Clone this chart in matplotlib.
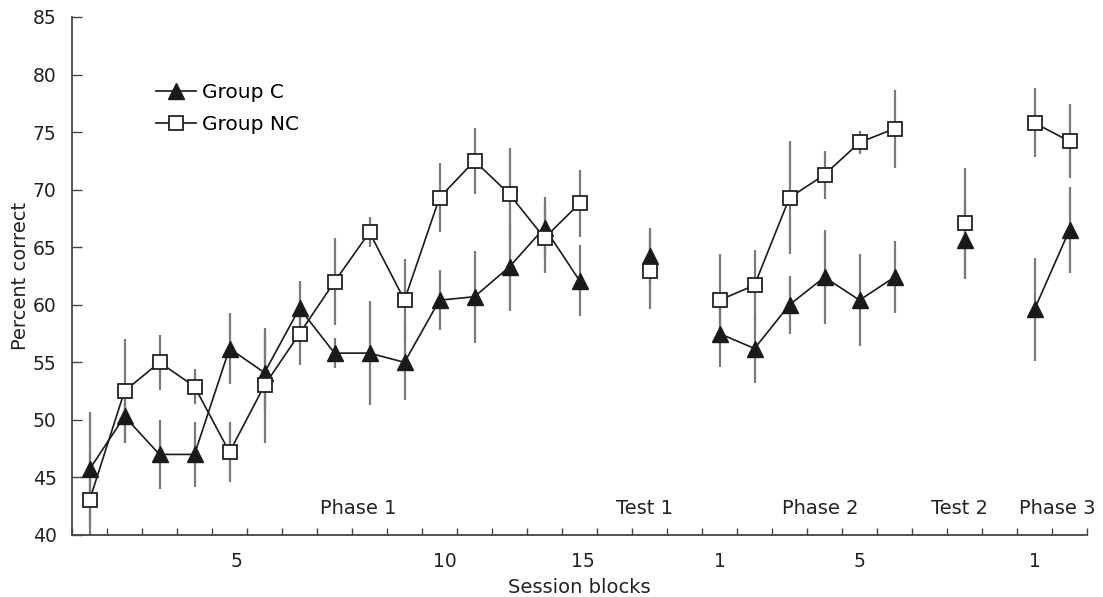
import numpy as np
import matplotlib
matplotlib.use('Agg')
import matplotlib.pyplot as plt

nan = np.nan

# block positions (1..29); gaps between phases
block = np.arange(1, 30)

# Group C (triangles)
group_c = [45.7, 50.3, 47.0, 47.0, 56.2, 54.1, 59.7, 55.8, 55.8, 55.0,
           60.4, 60.7, 63.3, 66.7, 62.1, nan, 64.2, nan,
           57.5, 56.2, 60.0, 62.4, 60.4, 62.4, nan, 65.6, nan, 59.6, 66.5]
err_c = [5.0, 2.3, 3.0, 2.8, 3.1, 3.5, 2.4, 1.3, 4.5, 3.3,
         2.6, 4.0, 3.8, 2.7, 3.1, nan, 2.5, nan,
         2.9, 3.0, 2.5, 4.1, 4.0, 3.1, nan, 3.4, nan, 4.5, 3.7]

# Group NC (squares)
group_nc = [43.0, 52.5, 55.0, 52.9, 47.2, 53.0, 57.5, 62.0, 66.3, 60.4,
            69.3, 72.5, 69.6, 65.8, 68.8, nan, 62.9, nan,
            60.4, 61.7, 69.3, 71.3, 74.1, 75.3, nan, 67.1, nan, 75.8, 74.2]
err_nc = [4.0, 4.5, 2.4, 1.5, 2.6, 5.0, 2.7, 3.8, 1.3, 3.6,
          3.0, 2.9, 4.0, 3.0, 2.9, nan, 3.3, nan,
          4.0, 3.1, 4.9, 2.1, 1.0, 3.4, nan, 4.8, nan, 3.0, 3.2]

tick_pos = [5.2, 11.15, 15.1, 19, 23, 28]
tick_labels = ['5', '10', '15', '1', '5', '1']

phase_names = ['Phase 1', 'Test 1', 'Phase 2', 'Test 2', 'Phase 3']
phase_pos = [8.67, 16.87, 21.87, 25.87, 28.64]

txt = '#222222'
plt.rcParams['font.family'] = 'DejaVu Sans'
plt.rcParams['font.size'] = 14

fig = plt.figure(figsize=(11.03, 5.97), dpi=100)
ax = fig.add_axes([72 / 1103, (597 - 535) / 597, 1015 / 1103, 518 / 597])

ax.errorbar(block, group_c, yerr=err_c, fmt='none', ecolor='#7a7a7a', elinewidth=1.6, zorder=1)
ax.errorbar(block, group_nc, yerr=err_nc, fmt='none', ecolor='#7a7a7a', elinewidth=1.6, zorder=1)

ax.plot(block, group_c, color='#1a1a1a', lw=1.2, marker='^', ms=11,
        mfc='#1a1a1a', mec='#1a1a1a', label='Group C', zorder=3)
ax.plot(block, group_nc, color='#1a1a1a', lw=1.2, marker='s', ms=10.5,
        mfc='white', mec='#222222', mew=1.3, label='Group NC', zorder=3)

ax.set_xlim(0.5, 29.5)
ax.set_ylim(40, 85)
ax.set_yticks(np.arange(40, 86, 5))
ax.set_xticks(tick_pos)
ax.set_xticklabels(tick_labels)
ax.set_xticks(np.arange(0.5, 29.6, 1), minor=True)
ax.tick_params(axis='x', which='major', length=0, pad=12, colors=txt, labelsize=13.5)
ax.tick_params(axis='x', which='minor', direction='in', length=5, width=1, color='#444444')
ax.tick_params(axis='y', direction='in', length=7, width=1, color='#444444',
               labelcolor=txt, pad=11, labelsize=13.5)

for s in ['top', 'right']:
    ax.spines[s].set_visible(False)
for s in ['left', 'bottom']:
    ax.spines[s].set_color('#444444')
    ax.spines[s].set_linewidth(1.3)

for name, p in zip(phase_names, phase_pos):
    ax.text(p, 42.3, name, ha='center', va='center', color=txt)

ax.set_xlabel('Session blocks', color=txt, labelpad=5)
ax.set_ylabel('Percent correct', color=txt, labelpad=2)

ax.legend(loc='upper left', bbox_to_anchor=(0.075, 0.888), frameon=False, fontsize=14.5,
          handlelength=2.0, handletextpad=0.3, labelspacing=0.62, borderaxespad=0)

fig.savefig('out.png', dpi=100)
